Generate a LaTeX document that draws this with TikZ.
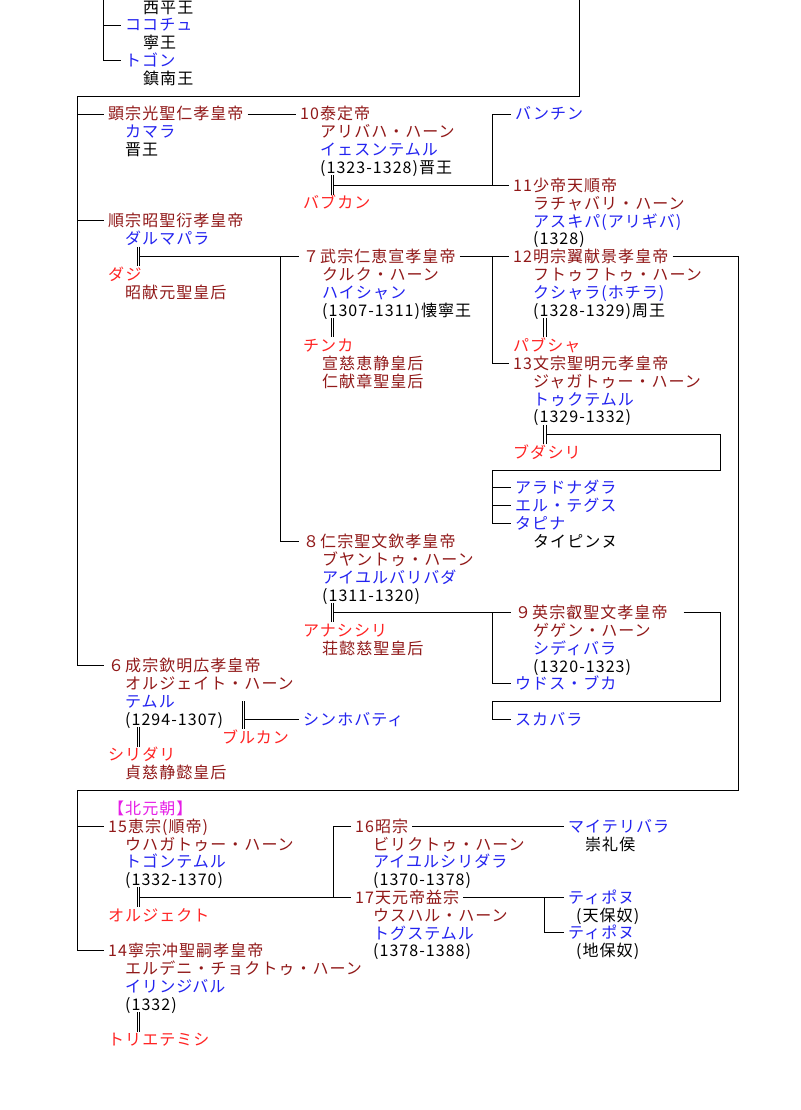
\documentclass[tikz,border=0pt]{standalone}
\usepackage{fontspec}
\newfontfamily\jpf{Noto Sans CJK JP}[LetterSpace=6.5]
\definecolor{dr}{RGB}{145,25,25}
\definecolor{bl}{RGB}{35,35,240}
\definecolor{rd}{RGB}{255,35,35}
\definecolor{mg}{RGB}{230,30,230}
\newcommand{\zs}{\rule[-3pt]{0pt}{16.5pt}}
\newcommand{\zdr}[1]{\textcolor{dr}{#1}}
\newcommand{\zbl}[1]{\textcolor{bl}{#1}}
\begin{document}
\begin{tikzpicture}[x=1pt,y=-17.8pt,
  hd/.style={inner xsep=4pt, inner ysep=0pt, anchor=base west, yshift=-6pt,
    text height=12pt, text depth=0pt, font=\jpf\fontsize{16}{17.8}\selectfont},
  bk/.style={inner sep=0pt, anchor=north west, yshift=7.5pt, align=left,
    font=\jpf\fontsize{16}{17.8}\selectfont},
  ln/.style={line width=0.95pt},
  dbl/.style={line width=0.7pt, double distance=1.7pt}]
\fill[white] (0,-6.4045) rectangle (800,55.955);
\useasboundingbox (0,-6.4045) rectangle (800,55.955);

% ---------- top block
\node[bk] (seihei) at (143,-6) {\zs 西平王};
\node[hd,text=bl] (cocochu) at (121,-5) {ココチュ};
\node[bk] (neiou) at (143,-4) {\zs 寧王};
\node[hd,text=bl] (togon) at (121,-3) {トゴン};
\node[bk] (chinnan) at (143,-2) {\zs 鎮南王};

% ---------- rows 0-5
\node[hd,text=dr] (kensou) at (104,0) {顕宗光聖仁孝皇帝};
\node[bk] (kensouD) at (125,1) {\zs\zbl{カマラ}\\\zs 晋王};
\node[hd,text=dr] (taitei) at (296,0) {10泰定帝};
\node[bk] (taiteiD) at (320,1) {\zs\zdr{アリバハ・ハーン}\\\zs\zbl{イェスンテムル}\\\zs(1323-1328)晋王};
\node[hd,text=rd] (babukan) at (299,5) {バブカン};
\node[hd,text=bl] (banchin) at (511,0) {バンチン};
\node[hd,text=dr] (shotei) at (509,4) {11少帝天順帝};
\node[bk] (shoteiD) at (533,5) {\zs\zdr{ラチャバリ・ハーン}\\\zs\zbl{アスキパ(アリギバ)}\\\zs(1328)};

% ---------- rows 6-23
\node[hd,text=dr] (junsou) at (104,6) {順宗昭聖衍孝皇帝};
\node[bk] (junsouD) at (125,7) {\zs\zbl{ダルマパラ}};
\node[hd,text=rd] (daji) at (104,9) {ダジ};
\node[bk] (dajiD) at (125,10) {\zs\zdr{昭献元聖皇后}};
\node[hd,text=dr] (busou) at (299,8) {７武宗仁恵宣孝皇帝};
\node[bk] (busouD) at (322,9) {\zs\zdr{クルク・ハーン}\\\zs\zbl{ハイシャン}\\\zs(1307-1311)懐寧王};
\node[hd,text=rd] (chinka) at (299,13) {チンカ};
\node[bk] (chinkaD) at (322,14) {\zs\zdr{宣慈恵静皇后}\\\zs\zdr{仁献章聖皇后}};
\node[hd,text=dr] (meisou) at (509,8) {12明宗翼献景孝皇帝};
\node[bk] (meisouD) at (533,9) {\zs\zdr{フトゥフトゥ・ハーン}\\\zs\zbl{クシャラ(ホチラ)}\\\zs(1328-1329)周王};
\node[hd,text=rd] (pabusha) at (509,13) {パブシャ};
\node[hd,text=dr] (bunsou) at (509,14) {13文宗聖明元孝皇帝};
\node[bk] (bunsouD) at (533,15) {\zs\zdr{ジャガトゥー・ハーン}\\\zs\zbl{トゥクテムル}\\\zs(1329-1332)};
\node[hd,text=rd] (budashiri) at (509,19) {ブダシリ};
\node[hd,text=bl] (arado) at (511,21) {アラドナダラ};
\node[hd,text=bl] (eru) at (511,22) {エル・テグス};
\node[hd,text=bl] (tapina) at (511,23) {タピナ};
\node[bk] (tapinaD) at (533,24) {\zs タイピンヌ};

% ---------- rows 24-37
\node[hd,text=dr] (jinsou) at (299,24) {８仁宗聖文欽孝皇帝};
\node[bk] (jinsouD) at (322,25) {\zs\zdr{ブヤントゥ・ハーン}\\\zs\zbl{アイユルバリバダ}\\\zs(1311-1320)};
\node[hd,text=rd] (anashi) at (299,29) {アナシシリ};
\node[bk] (anashiD) at (322,30) {\zs\zdr{荘懿慈聖皇后}};
\node[hd,text=dr] (eisou) at (511,28) {９英宗叡聖文孝皇帝};
\node[bk] (eisouD) at (533,29) {\zs\zdr{ゲゲン・ハーン}\\\zs\zbl{シディバラ}\\\zs(1320-1323)};
\node[hd,text=bl] (udosu) at (511,32) {ウドス・ブカ};
\node[hd,text=bl] (sukabara) at (511,34) {スカバラ};

\node[hd,text=dr] (seisou) at (104,31) {６成宗欽明広孝皇帝};
\node[bk] (seisouD) at (125,32) {\zs\zdr{オルジェイト・ハーン}\\\zs\zbl{テムル}\\\zs(1294-1307)};
\node[hd,text=rd] (shiridari) at (104,36) {シリダリ};
\node[bk] (shiridariD) at (125,37) {\zs\zdr{貞慈静懿皇后}};
\node[hd,text=rd] (burukan) at (218,35) {ブルカン};
\node[hd,text=bl] (shinho) at (299,34) {シンホバティ};

% ---------- Northern Yuan
\node[hd,text=mg] (hokugen) at (104,39) {【北元朝】};
\node[hd,text=dr] (keisou) at (104,40) {15恵宗(順帝)};
\node[bk] (keisouD) at (125,41) {\zs\zdr{ウハガトゥー・ハーン}\\\zs\zbl{トゴンテムル}\\\zs(1332-1370)};
\node[hd,text=rd] (oruje) at (104,45) {オルジェクト};
\node[hd,text=dr] (shousou) at (351,40) {16昭宗};
\node[bk] (shousouD) at (373,41) {\zs\zdr{ビリクトゥ・ハーン}\\\zs\zbl{アイユルシリダラ}\\\zs(1370-1378)};
\node[hd,text=bl] (maiteri) at (564,40) {マイテリバラ};
\node[bk] (maiteriD) at (585,41) {\zs 崇礼侯};
\node[hd,text=dr] (tengen) at (351,44) {17天元帝益宗};
\node[bk] (tengenD) at (373,45) {\zs\zdr{ウスハル・ハーン}\\\zs\zbl{トグステムル}\\\zs(1378-1388)};
\node[hd,text=bl] (tipo1) at (564,44) {ティポヌ};
\node[bk] (tipo1D) at (576,45) {\zs(天保奴)};
\node[hd,text=bl] (tipo2) at (564,46) {ティポヌ};
\node[bk] (tipo2D) at (576,47) {\zs(地保奴)};
\node[hd,text=dr] (neisou) at (104,47) {14寧宗冲聖嗣孝皇帝};
\node[bk] (neisouD) at (125,48) {\zs\zdr{エルデニ・チョクトゥ・ハーン}\\\zs\zbl{イリンジバル}\\\zs(1332)};
\node[hd,text=rd] (torie) at (104,52) {トリエテミシ};

% ---------- junction coordinates
\coordinate (topL) at (103,-6.45);
\coordinate (topR) at (579,-6.45);
\coordinate (mTai) at (333.8,4);
\coordinate (mJun) at (139.8,8);
\coordinate (mMei) at (546.3,18);
\coordinate (mJin) at (333.8,28);
\coordinate (mBur) at (244.8,34);
\coordinate (mKei) at (139.8,44);

% ---------- connectors
\begin{scope}[ln]
\draw (topL) |- (togon.west);
\draw (103,-5) -- (cocochu.west);
\draw (topR) -- (579,-1) -- (77,-1) |- (seisou.west);
\draw (77,0) -- (kensou.west);
\draw (77,6) -- (junsou.west);
\draw (kensou.east) -- (taitei.west);
\draw (mTai) -- (shotei.west);
\draw (banchin.west) -| (492,4);
\draw (mJun) -- (busou.west);
\draw (280,8) |- (jinsou.west);
\draw (busou.east) -- (meisou.west);
\draw (492,8) |- (bunsou.west);
\draw (meisou.east) -| (738,38) -- (77,38) |- (neisou.west);
\draw (77,40) -- (keisou.west);
\draw (mMei) -| (720,20) -- (492,20) |- (tapina.west);
\draw (492,21) -- (arado.west);
\draw (492,22) -- (eru.west);
\draw (mJin) -- (eisou.west);
\draw (492,28) |- (udosu.west);
\draw[shorten <=12pt] (eisou.east) -| (720,33) -- (492,33) |- (sukabara.west);
\draw (mBur) -- (shinho.west);
\draw (mKei) -- (tengen.west);
\draw (shousou.west) -| (333,44);
\draw (shousou.east) -- (maiteri.west);
\draw (tengen.east) -- (tipo1.west);
\draw (544,44) |- (tipo2.west);
\end{scope}

% ---------- marriage double lines
\draw[dbl] (332.5,3.45) -- (332.5,4.55);
\draw[dbl] (138.5,7.45) -- (138.5,8.55);
\draw[dbl] (332.5,11.45) -- (332.5,12.55);
\draw[dbl] (545,11.45) -- (545,12.55);
\draw[dbl] (545,17.45) -- (545,18.55);
\draw[dbl] (332.5,27.45) -- (332.5,28.55);
\draw[dbl] (138.5,34.45) -- (138.5,35.55);
\draw[dbl] (243.5,33.0) -- (243.5,34.55);
\draw[dbl] (138.5,43.45) -- (138.5,44.55);
\draw[dbl] (138.5,50.45) -- (138.5,51.55);
\end{tikzpicture}
\end{document}
